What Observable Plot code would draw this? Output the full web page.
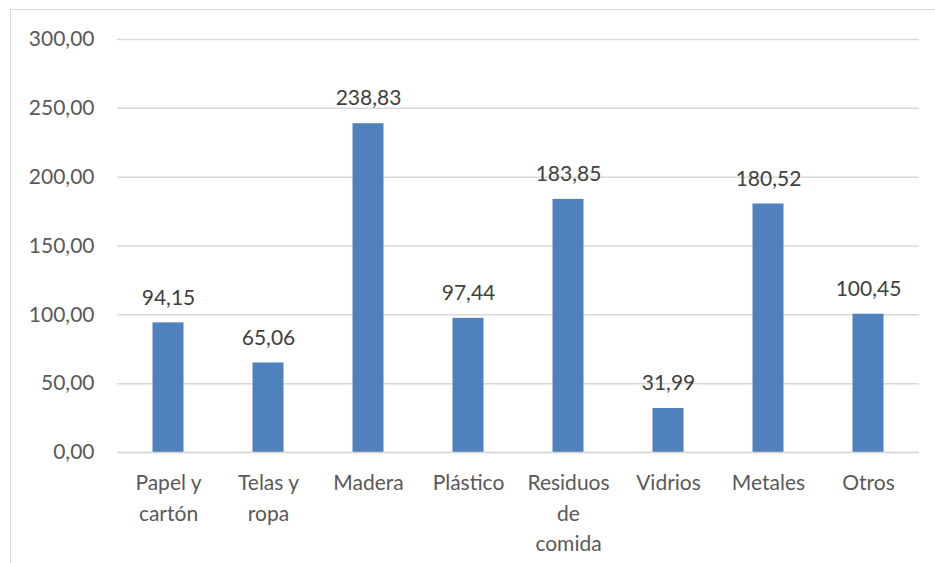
<!DOCTYPE html>
<html>
<head>
<meta charset="utf-8">
<script src="https://cdn.jsdelivr.net/npm/d3@7"></script>
<script src="https://cdn.jsdelivr.net/npm/@observablehq/plot@0.6"></script>
<style>
  html, body { margin: 0; padding: 0; background: #fff; overflow: hidden; }
  #wrap { position: relative; width: 935px; height: 563px; overflow: hidden; }
  #frame { position: absolute; left: 10px; top: 9px; width: 1000px; height: 700px; border: 1.5px solid #d9d9d9; box-sizing: border-box; }
  #chart { position: absolute; left: 0; top: 0; }
</style>
</head>
<body>
<div id="wrap"><div id="frame"></div><div id="chart"></div></div>
<script>
const categories = ["Papel y\ncartón", "Telas y\nropa", "Madera", "Plástico", "Residuos\nde\ncomida", "Vidrios", "Metales", "Otros"];
const values = [94.15, 65.06, 238.83, 97.44, 183.85, 31.99, 180.52, 100.45];
const yTicks = [0, 50, 100, 150, 200, 250, 300];

const data = categories.map((c, i) => ({category: c, value: values[i]}));
const fmt = d => d.toFixed(2).replace(".", ",");
const font = "Lato, 'Open Sans', sans-serif";

const chart = Plot.plot({
  width: 935,
  height: 563,
  marginLeft: 117,
  marginRight: 16,
  marginTop: 39,
  marginBottom: 111,
  style: {fontFamily: font, fontSize: "21px", color: "#595959", background: "transparent"},
  x: {domain: categories, padding: 0},
  y: {domain: [0, 300]},
  marks: [
    Plot.gridY(yTicks, {stroke: "#d9d9d9", strokeOpacity: 1, strokeWidth: 1.5}),
    Plot.axisY(yTicks, {tickSize: 0, tickPadding: 23, tickFormat: fmt, fill: "#595959", fontSize: 21, label: null}),
    Plot.barY(data, {x: "category", y: "value", fill: "#4F81BD", insetLeft: 34.5, insetRight: 34.5}),
    Plot.ruleY([0], {stroke: "#d9d9d9", strokeWidth: 1.5}),
    Plot.axisX({tickSize: 0, tickPadding: 16, fill: "#595959", fontSize: 21, lineHeight: 1.45, label: null}),
    Plot.text(data, {x: "category", y: "value", text: d => fmt(d.value), dy: -25, fill: "#404040", fontSize: 21})
  ]
});
document.getElementById("chart").appendChild(chart);
</script>
</body>
</html>
